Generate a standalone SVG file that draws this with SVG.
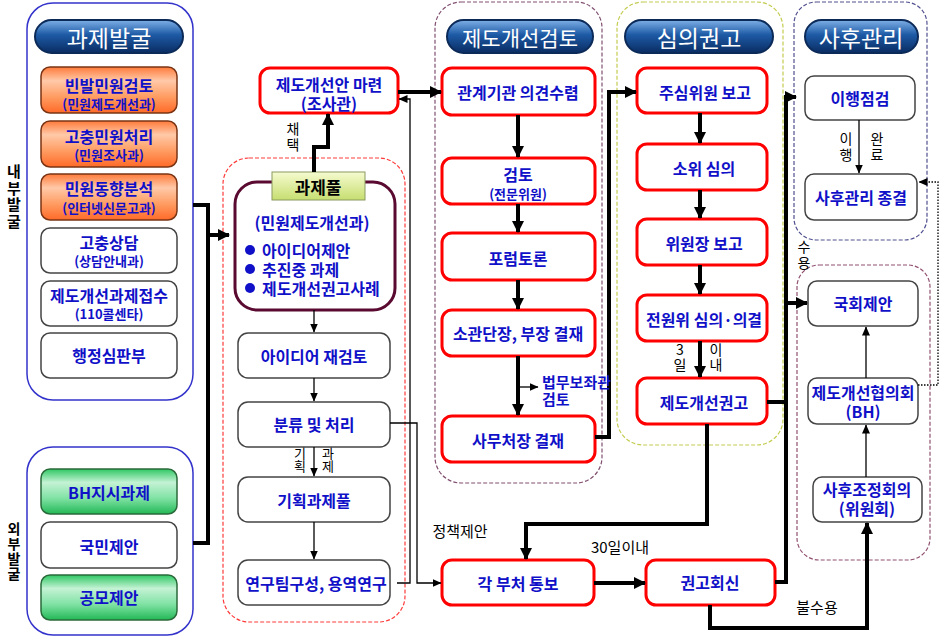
<svg xmlns="http://www.w3.org/2000/svg" width="942" height="636" viewBox="0 0 942 636">
<defs>
<linearGradient id="gHead" x1="0" y1="0" x2="0" y2="1">
<stop offset="0" stop-color="#7fb0e8"/><stop offset="0.45" stop-color="#1d5aa5"/><stop offset="1" stop-color="#0a2c62"/>
</linearGradient>
<linearGradient id="gOr" x1="0" y1="0" x2="0" y2="1">
<stop offset="0" stop-color="#ff7a3a"/><stop offset="0.3" stop-color="#ffc9a8"/><stop offset="0.65" stop-color="#ff9c62"/><stop offset="1" stop-color="#ff6a28"/>
</linearGradient>
<linearGradient id="gGr" x1="0" y1="0" x2="0" y2="1">
<stop offset="0" stop-color="#2fc864"/><stop offset="0.3" stop-color="#c4f2d4"/><stop offset="0.65" stop-color="#80e2a4"/><stop offset="1" stop-color="#22b856"/>
</linearGradient>
<linearGradient id="gPool" x1="0" y1="0" x2="0" y2="1">
<stop offset="0" stop-color="#f6fbd0"/><stop offset="1" stop-color="#c6de70"/>
</linearGradient>
<marker id="ah" viewBox="0 0 12 12" refX="11" refY="6" markerWidth="12" markerHeight="12" markerUnits="userSpaceOnUse" orient="auto"><path d="M0,0 L12,6 L0,12 z" fill="#000"/></marker>
<marker id="at" viewBox="0 0 9 8" refX="8.5" refY="4" markerWidth="9" markerHeight="8" markerUnits="userSpaceOnUse" orient="auto"><path d="M0,0 L9,4 L0,8 z" fill="#000"/></marker>
<style>
text{font-family:"Noto Sans CJK KR","Noto Sans",sans-serif;dominant-baseline:central;text-anchor:middle}
.bt{fill:#1010c8;font-weight:bold;font-size:16px}
.sm{font-size:13px}
.ht{fill:#fff;font-size:23px}
.lb{fill:#000;font-size:15px}
.vt{fill:#000;font-size:13px;writing-mode:vertical-rl;text-orientation:upright}
.vl{fill:#000;font-size:15px;font-weight:bold;writing-mode:vertical-rl;text-orientation:upright}
.head{fill:url(#gHead);stroke:#0c2a58;stroke-width:2}
.orb{fill:url(#gOr);stroke:#7a3414;stroke-width:1.5}
.grb{fill:url(#gGr);stroke:#2a6a3a;stroke-width:1.5}
.wb{fill:#fff;stroke:#444;stroke-width:1.5}
.rb{fill:#fff;stroke:#ff0000;stroke-width:3}
.tk{fill:none;stroke:#000;stroke-width:4}
.tn{fill:none;stroke:#000;stroke-width:1.3}
</style>
</defs>
<rect width="942" height="636" fill="#fff"/>

<!-- panels -->
<g id="panels">
<rect x="27" y="3" width="166" height="397" rx="26" fill="#fff" stroke="#3333cc" stroke-width="1.5"/>
<rect x="27" y="447" width="166" height="188" rx="26" fill="#fff" stroke="#3333cc" stroke-width="1.5"/>
<rect x="223" y="158" width="182" height="464" rx="26" fill="none" stroke="#ff3b3b" stroke-width="1.2" stroke-dasharray="4 2"/>
<rect x="435" y="2" width="167" height="481" rx="26" fill="none" stroke="#805070" stroke-width="1.2" stroke-dasharray="4 2"/>
<rect x="617" y="2" width="166" height="443" rx="26" fill="none" stroke="#c4cc50" stroke-width="1.2" stroke-dasharray="4 2"/>
<rect x="794" y="2" width="133" height="238" rx="22" fill="none" stroke="#505090" stroke-width="1.2" stroke-dasharray="4 2"/>
<rect x="797" y="265" width="133" height="295" rx="22" fill="none" stroke="#905070" stroke-width="1.2" stroke-dasharray="4 2"/>
</g>

<!-- headers -->
<g id="h1"><rect class="head" x="35" y="20" width="148" height="33" rx="16.5"/><text class="ht" x="109" y="37">과제발굴</text></g>
<g id="h2"><rect class="head" x="447" y="20" width="146" height="33" rx="16.5"/><text class="ht" x="520" y="37" style="font-size:21px">제도개선검토</text></g>
<g id="h3"><rect class="head" x="625" y="20" width="148" height="33" rx="16.5"/><text class="ht" x="699" y="37">심의권고</text></g>
<g id="h4"><rect class="head" x="805" y="20" width="113" height="33" rx="16.5"/><text class="ht" x="861" y="37">사후관리</text></g>

<!-- side labels -->
<g id="lbl-internal"><text class="vl" x="14" y="197" style="letter-spacing:1.5px">내부발굴</text></g>
<g id="lbl-external"><text class="vl" x="14" y="552" style="font-size:14px;letter-spacing:1px">외부발굴</text></g>

<!-- left nodes -->
<g id="n1"><rect class="orb" x="41" y="67" width="136" height="46" rx="9"/><text class="bt" x="109" y="85">빈발민원검토<tspan class="sm" x="109" dy="18">(민원제도개선과)</tspan></text></g>
<g id="n2"><rect class="orb" x="41" y="121" width="136" height="46" rx="9"/><text class="bt" x="109" y="136">고충민원처리<tspan class="sm" x="109" dy="18">(민원조사과)</tspan></text></g>
<g id="n3"><rect class="orb" x="41" y="174" width="136" height="46" rx="9"/><text class="bt" x="109" y="188">민원동향분석<tspan class="sm" x="109" dy="19">(인터넷신문고과)</tspan></text></g>
<g id="n4"><rect class="wb" x="41" y="228" width="136" height="45" rx="9"/><text class="bt" x="109" y="242">고충상담<tspan class="sm" x="109" dy="18">(상담안내과)</tspan></text></g>
<g id="n5"><rect class="wb" x="41" y="281" width="136" height="45" rx="9"/><text class="bt" x="109" y="295">제도개선과제접수<tspan class="sm" x="109" dy="18">(110콜센타)</tspan></text></g>
<g id="n6"><rect class="wb" x="41" y="333" width="136" height="45" rx="9"/><text class="bt" x="109" y="355">행정심판부</text></g>
<g id="n7"><rect class="grb" x="41" y="469" width="136" height="45" rx="9"/><text class="bt" x="109" y="492">BH지시과제</text></g>
<g id="n8"><rect class="wb" x="41" y="522" width="136" height="46" rx="9"/><text class="bt" x="109" y="546">국민제안</text></g>
<g id="n9"><rect class="grb" x="41" y="575" width="136" height="45" rx="9"/><text class="bt" x="109" y="597">공모제안</text></g>

<!-- middle-left -->
<g id="n10"><rect class="rb" x="260" y="68" width="138" height="45" rx="10"/><text class="bt" x="329" y="84">제도개선안 마련<tspan x="329" dy="19">(조사관)</tspan></text></g>
<g id="n11">
<rect x="235" y="182" width="160" height="128" rx="22" fill="#fff" stroke="#5a0a30" stroke-width="3"/>
<rect x="272" y="172" width="93" height="28" fill="url(#gPool)" stroke="#8a9a60" stroke-width="1"/>
<text x="318" y="186" style="font-size:17px;font-weight:bold;fill:#000">과제풀</text>
<text class="bt" x="312" y="222">(민원제도개선과)</text>
<circle cx="250" cy="250" r="5" fill="#1010c8"/><circle cx="250" cy="269" r="5" fill="#1010c8"/><circle cx="250" cy="288" r="5" fill="#1010c8"/>
<text class="bt" x="262" y="250" style="text-anchor:start">아이디어제안<tspan x="262" dy="19">추진중 과제</tspan><tspan x="262" dy="19">제도개선권고사례</tspan></text>
</g>
<g id="n12"><rect class="wb" x="238" y="333" width="152" height="45" rx="10"/><text class="bt" x="314" y="356">아이디어 재검토</text></g>
<g id="n13"><rect class="wb" x="238" y="402" width="152" height="45" rx="10"/><text class="bt" x="314" y="424">분류 및 처리</text></g>
<g id="n14"><rect class="wb" x="238" y="477" width="152" height="45" rx="10"/><text class="bt" x="314" y="500">기획과제풀</text></g>
<g id="n15"><rect class="wb" x="238" y="560" width="152" height="45" rx="10"/><text class="bt" x="316" y="583">연구팀구성, 용역연구</text></g>

<!-- 제도개선검토 -->
<g id="n16"><rect class="rb" x="442" y="68" width="153" height="47" rx="10"/><text class="bt" x="518" y="92">관계기관 의견수렴</text></g>
<g id="n17"><rect class="rb" x="442" y="158" width="153" height="46" rx="10"/><text class="bt" x="518" y="174">검토<tspan class="sm" x="518" dy="19">(전문위원)</tspan></text></g>
<g id="n18"><rect class="rb" x="442" y="233" width="153" height="47" rx="10"/><text class="bt" x="518" y="258">포럼토론</text></g>
<g id="n19"><rect class="rb" x="442" y="310" width="153" height="46" rx="10"/><text class="bt" x="518" y="333">소관단장, 부장 결재</text></g>
<g id="n20"><rect class="rb" x="442" y="416" width="153" height="46" rx="10"/><text class="bt" x="518" y="440">사무처장 결재</text></g>
<g id="n21"><rect class="rb" x="442" y="560" width="152" height="45" rx="10"/><text class="bt" x="518" y="583">각 부처 통보</text></g>

<!-- 심의권고 -->
<g id="n22"><rect class="rb" x="637" y="68" width="130" height="45" rx="10"/><text class="bt" x="705" y="92">주심위원 보고</text></g>
<g id="n23"><rect class="rb" x="637" y="144" width="130" height="46" rx="10"/><text class="bt" x="704" y="168">소위 심의</text></g>
<g id="n24"><rect class="rb" x="637" y="219" width="130" height="46" rx="10"/><text class="bt" x="704" y="243">위원장 보고</text></g>
<g id="n25"><rect class="rb" x="637" y="295" width="130" height="46" rx="10"/><text class="bt" x="704" y="319">전원위 심의·의결</text></g>
<g id="n26"><rect class="rb" x="637" y="378" width="130" height="46" rx="10"/><text class="bt" x="704" y="402">제도개선권고</text></g>
<g id="n27"><rect class="rb" x="646" y="560" width="129" height="45" rx="10"/><text class="bt" x="710" y="582">권고회신</text></g>

<!-- 사후관리 -->
<g id="n28"><rect class="wb" x="805" y="76" width="110" height="44" rx="9"/><text class="bt" x="860" y="98">이행점검</text></g>
<g id="n29"><rect class="wb" x="805" y="174" width="112" height="46" rx="9"/><text class="bt" x="861" y="197">사후관리 종결</text></g>
<g id="n30"><rect class="wb" x="808" y="281" width="110" height="45" rx="9"/><text class="bt" x="863" y="303">국회제안</text></g>
<g id="n31"><rect class="wb" x="808" y="378" width="110" height="46" rx="9"/><text class="bt" x="863" y="392">제도개선협의회<tspan x="863" dy="19">(BH)</tspan></text></g>
<g id="n32"><rect class="wb" x="813" y="477" width="109" height="45" rx="9"/><text class="bt" x="867" y="489">사후조정회의<tspan x="867" dy="19">(위원회)</tspan></text></g>

<!-- connectors -->
<g id="connectors">
<path class="tk" d="M193,205 H208 V543 H193"/>
<path class="tk" d="M208,235 H229" marker-end="url(#ah)"/>
<path class="tk" d="M314,172 V147 H328 V114" marker-end="url(#ah)"/>
<path class="tk" d="M398,92 H441" marker-end="url(#ah)"/>
<path class="tk" d="M518,115 V157" marker-end="url(#ah)"/>
<path class="tk" d="M518,204 V232" marker-end="url(#ah)"/>
<path class="tk" d="M518,280 V309" marker-end="url(#ah)"/>
<path class="tk" d="M518,356 V415" marker-end="url(#ah)"/>
<path class="tk" d="M595,437 H609 V92 H636" marker-end="url(#ah)"/>
<path class="tk" d="M700,113 V143" marker-end="url(#ah)"/>
<path class="tk" d="M700,190 V218" marker-end="url(#ah)"/>
<path class="tk" d="M700,265 V294" marker-end="url(#ah)"/>
<path class="tk" d="M700,341 V377" marker-end="url(#ah)"/>
<path class="tk" d="M767,402 H786"/>
<path class="tk" d="M775,582 H786 V97 H796" marker-end="url(#ah)"/>
<path class="tk" d="M786,303 H807" marker-end="url(#ah)"/>
<path class="tk" d="M707,424 V524 H526 V559" marker-end="url(#ah)"/>
<path class="tk" d="M594,583 H645" marker-end="url(#ah)"/>
<path class="tk" d="M710,605 V628 H867 V523" marker-end="url(#ah)"/>

<path class="tn" d="M314,310 V332" marker-end="url(#at)"/>
<path class="tn" d="M314,378 V401" marker-end="url(#at)"/>
<path class="tn" d="M314,447 V476" marker-end="url(#at)"/>
<path class="tn" d="M314,522 V559" marker-end="url(#at)"/>
<path class="tn" d="M390,423 H417 V583 H441" marker-end="url(#at)"/>
<path class="tn" d="M397,583 H410 V99 H399" marker-end="url(#at)"/>
<path class="tn" d="M518,387 H538" marker-end="url(#at)"/>
<path class="tn" d="M859,120 V173" marker-end="url(#at)"/>
<path class="tn" d="M866,378 V327" marker-end="url(#at)"/>
<path class="tn" d="M866,477 V425" marker-end="url(#at)"/>
<path class="tn" d="M918,385 H938 V182 H919" stroke-dasharray="1.5 1.5" marker-end="url(#at)"/>
</g>

<!-- connector labels -->
<g id="labels">
<text class="vt" x="293" y="138" style="font-size:14px;letter-spacing:2px">채택</text>
<text class="vt" x="300" y="460">기획</text>
<text class="vt" x="328" y="460">과제</text>
<text class="bt" x="542" y="381" style="text-anchor:start;font-size:15px">법무보좌관<tspan x="542" dy="17">검토</tspan></text>
<text class="vt" x="680" y="358" style="font-size:14px;letter-spacing:1px">3일</text>
<text class="vt" x="716" y="358" style="font-size:14px;letter-spacing:1px">이내</text>
<text class="vt" x="846" y="148" style="font-size:14px;letter-spacing:2px">이행</text>
<text class="vt" x="877" y="148" style="font-size:14px;letter-spacing:2px">완료</text>
<text class="vt" x="804" y="256" style="font-size:14px;letter-spacing:2px">수용</text>
<text class="lb" x="460" y="530">정책제안</text>
<text class="lb" x="620" y="546">30일이내</text>
<text class="lb" x="817" y="606">불수용</text>
</g>
</svg>
